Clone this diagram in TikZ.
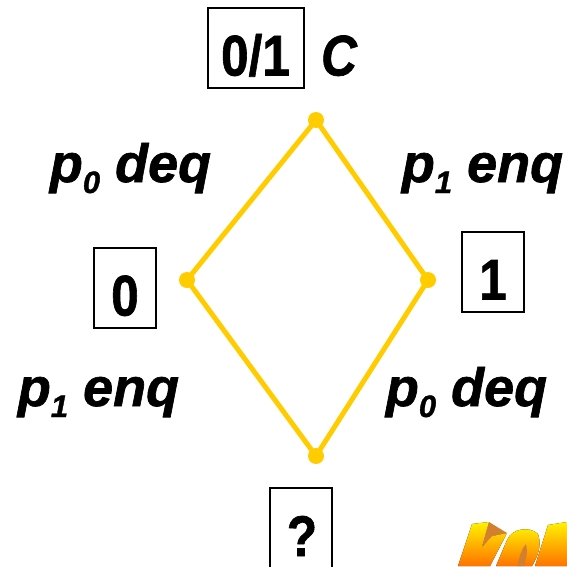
\documentclass[tikz,border=0pt]{standalone}
\usepackage{graphicx}
\usepackage{fontspec}
\setmainfont[BoldFeatures={FakeBold=1.2},BoldItalicFeatures={FakeBold=1.2}]{Liberation Sans}
\definecolor{ylw}{HTML}{FFCC00}
\newcommand{\tallt}[1]{\scalebox{1}[1.16]{#1}}
\begin{document}
\begin{tikzpicture}[x=1pt,y=-1pt,
  valbox/.style={draw=black,line width=2pt,fill=white,inner sep=0pt,text height=55pt,text depth=0pt,font=\fontsize{49.5}{49.5}\selectfont\bfseries},
  valtext/.style={inner sep=0pt,anchor=base,font=\fontsize{49.5}{49.5}\selectfont\bfseries},
  lab/.style={inner sep=0pt,font=\fontsize{54}{54}\selectfont\bfseries\itshape,anchor=base},
  dot/.style={circle,fill=ylw,draw=none,minimum size=16pt,inner sep=0pt},
  edge/.style={draw=ylw,line width=5pt}]
\useasboundingbox (0,0) rectangle (567,566);
\clip (0,0) rectangle (567,566);
\node[dot] (t) at (316,120) {};
\node[dot] (l) at (187,280) {};
\node[dot] (r) at (428,280) {};
\node[dot] (b) at (316,456) {};
\draw[edge] (t.center) -- (l.center) -- (b.center) -- (r.center) -- cycle;
\node[valbox,minimum width=96pt,minimum height=80pt] (top) at (255.5,48) {\tallt{0/1}};
\node[lab,font=\fontsize{49.5}{49.5}\selectfont\bfseries\itshape] (c) at (339,75.5) {\tallt{C}};
\node[valbox,minimum width=62pt,minimum height=80pt] (zero) at (125,288) {\tallt{0}};
\node[valbox,minimum width=62pt,minimum height=80pt] (one) at (493,272) {\tallt{1}};
\draw[line width=2pt] (270,570) -- (270,488) -- (332,488) -- (332,570);
\node[valtext] (q) at (302,556) {\tallt{?}};
\node[lab] (a) at (130.5,182) {p\raisebox{-11pt}{\fontsize{31}{31}\selectfont 0} deq};
\node[lab] (d) at (482.5,182) {p\raisebox{-11pt}{\fontsize{31}{31}\selectfont 1} enq};
\node[lab] (e) at (98.5,406) {p\raisebox{-11pt}{\fontsize{31}{31}\selectfont 1} enq};
\node[lab] (f) at (466.5,406) {p\raisebox{-11pt}{\fontsize{31}{31}\selectfont 0} deq};
% logo fragment
\fill[shading=axis,top color=yellow!90!orange,bottom color=orange!90!red]
  (472,524) -- (489,522) -- (482,547) -- (492,536) -- (507,533) -- (490,566) -- (458,566) -- cycle;
\fill[brown!70!orange] (489,522) -- (507,533) -- (492,536) -- (482,547) -- cycle;
\fill[shading=axis,top color=yellow!90!orange,bottom color=orange!90!red]
  (507,540) .. controls (512,528) and (530,526) .. (538,534) .. controls (542,545) and (538,556) .. (532,566) -- (496,566) -- cycle;
\fill[brown!70!orange] (517,566) .. controls (520,555) and (522,548) .. (526,544) .. controls (528,552) and (526,560) .. (524,566) -- cycle;
\fill[shading=axis,top color=yellow!90!orange,bottom color=orange!90!red]
  (548,525) -- (567,522) -- (567,566) -- (535,566) -- cycle;
\end{tikzpicture}
\end{document}
